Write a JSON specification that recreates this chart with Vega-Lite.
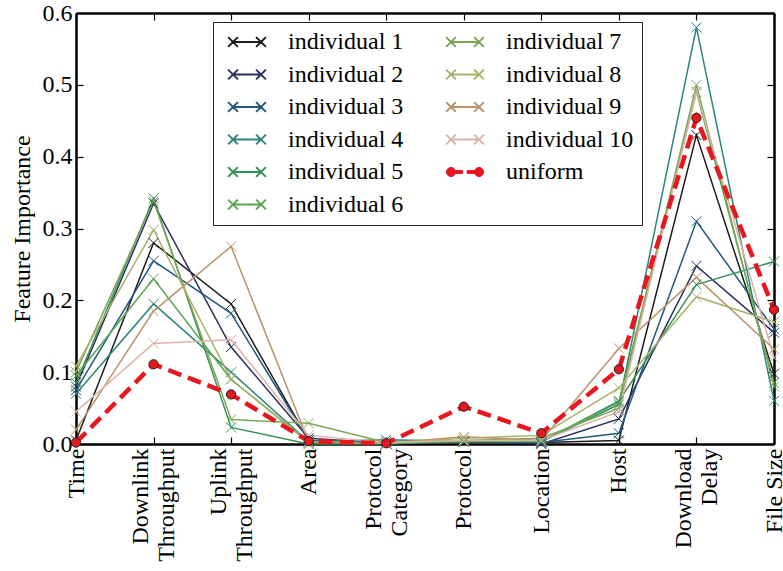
{
  "$schema": "https://vega.github.io/schema/vega-lite/v6.json",
  "width": 698,
  "height": 431,
  "autosize": "none",
  "padding": {"left": 76, "top": 13, "right": 9, "bottom": 127},
  "background": "white",
  "config": {
    "font": "Liberation Serif, Times New Roman, serif",
    "view": {"stroke": null},
    "axis": {"grid": false, "domainColor": "black", "domainWidth": 2.5, "tickColor": "black", "tickWidth": 1.2, "labelColor": "black", "labelFontSize": 24, "titleFontSize": 24, "titleFontWeight": "normal", "titleColor": "black", "labelFont": "Liberation Serif, Times New Roman, serif", "titleFont": "Liberation Serif, Times New Roman, serif"},
    "legend": {"labelFont": "Liberation Serif, Times New Roman, serif", "labelFontSize": 24}
  },
  "datasets": {
    "fi": [
      {"f": "Time", "s": "individual 1", "v": 0.005}, {"f": "Downlink Throughput", "s": "individual 1", "v": 0.28}, {"f": "Uplink Throughput", "s": "individual 1", "v": 0.195}, {"f": "Area", "s": "individual 1", "v": 0.005}, {"f": "Protocol Category", "s": "individual 1", "v": 0.001}, {"f": "Protocol", "s": "individual 1", "v": 0.003}, {"f": "Location", "s": "individual 1", "v": 0.002}, {"f": "Host", "s": "individual 1", "v": 0.005}, {"f": "Download Delay", "s": "individual 1", "v": 0.43}, {"f": "File Size", "s": "individual 1", "v": 0.098},
      {"f": "Time", "s": "individual 2", "v": 0.08}, {"f": "Downlink Throughput", "s": "individual 2", "v": 0.335}, {"f": "Uplink Throughput", "s": "individual 2", "v": 0.135}, {"f": "Area", "s": "individual 2", "v": 0.008}, {"f": "Protocol Category", "s": "individual 2", "v": 0.001}, {"f": "Protocol", "s": "individual 2", "v": 0.003}, {"f": "Location", "s": "individual 2", "v": 0.0}, {"f": "Host", "s": "individual 2", "v": 0.035}, {"f": "Download Delay", "s": "individual 2", "v": 0.248}, {"f": "File Size", "s": "individual 2", "v": 0.155},
      {"f": "Time", "s": "individual 3", "v": 0.075}, {"f": "Downlink Throughput", "s": "individual 3", "v": 0.255}, {"f": "Uplink Throughput", "s": "individual 3", "v": 0.182}, {"f": "Area", "s": "individual 3", "v": 0.005}, {"f": "Protocol Category", "s": "individual 3", "v": 0.003}, {"f": "Protocol", "s": "individual 3", "v": 0.004}, {"f": "Location", "s": "individual 3", "v": 0.002}, {"f": "Host", "s": "individual 3", "v": 0.015}, {"f": "Download Delay", "s": "individual 3", "v": 0.31}, {"f": "File Size", "s": "individual 3", "v": 0.16},
      {"f": "Time", "s": "individual 4", "v": 0.07}, {"f": "Downlink Throughput", "s": "individual 4", "v": 0.195}, {"f": "Uplink Throughput", "s": "individual 4", "v": 0.1}, {"f": "Area", "s": "individual 4", "v": 0.003}, {"f": "Protocol Category", "s": "individual 4", "v": 0.006}, {"f": "Protocol", "s": "individual 4", "v": 0.004}, {"f": "Location", "s": "individual 4", "v": 0.003}, {"f": "Host", "s": "individual 4", "v": 0.055}, {"f": "Download Delay", "s": "individual 4", "v": 0.58}, {"f": "File Size", "s": "individual 4", "v": 0.06},
      {"f": "Time", "s": "individual 5", "v": 0.085}, {"f": "Downlink Throughput", "s": "individual 5", "v": 0.342}, {"f": "Uplink Throughput", "s": "individual 5", "v": 0.023}, {"f": "Area", "s": "individual 5", "v": 0.0}, {"f": "Protocol Category", "s": "individual 5", "v": 0.0}, {"f": "Protocol", "s": "individual 5", "v": 0.003}, {"f": "Location", "s": "individual 5", "v": 0.003}, {"f": "Host", "s": "individual 5", "v": 0.06}, {"f": "Download Delay", "s": "individual 5", "v": 0.222}, {"f": "File Size", "s": "individual 5", "v": 0.254},
      {"f": "Time", "s": "individual 6", "v": 0.095}, {"f": "Downlink Throughput", "s": "individual 6", "v": 0.23}, {"f": "Uplink Throughput", "s": "individual 6", "v": 0.09}, {"f": "Area", "s": "individual 6", "v": 0.002}, {"f": "Protocol Category", "s": "individual 6", "v": 0.001}, {"f": "Protocol", "s": "individual 6", "v": 0.004}, {"f": "Location", "s": "individual 6", "v": 0.004}, {"f": "Host", "s": "individual 6", "v": 0.058}, {"f": "Download Delay", "s": "individual 6", "v": 0.49}, {"f": "File Size", "s": "individual 6", "v": 0.085},
      {"f": "Time", "s": "individual 7", "v": 0.1}, {"f": "Downlink Throughput", "s": "individual 7", "v": 0.338}, {"f": "Uplink Throughput", "s": "individual 7", "v": 0.034}, {"f": "Area", "s": "individual 7", "v": 0.029}, {"f": "Protocol Category", "s": "individual 7", "v": 0.002}, {"f": "Protocol", "s": "individual 7", "v": 0.005}, {"f": "Location", "s": "individual 7", "v": 0.008}, {"f": "Host", "s": "individual 7", "v": 0.05}, {"f": "Download Delay", "s": "individual 7", "v": 0.5}, {"f": "File Size", "s": "individual 7", "v": 0.08},
      {"f": "Time", "s": "individual 8", "v": 0.108}, {"f": "Downlink Throughput", "s": "individual 8", "v": 0.298}, {"f": "Uplink Throughput", "s": "individual 8", "v": 0.09}, {"f": "Area", "s": "individual 8", "v": 0.003}, {"f": "Protocol Category", "s": "individual 8", "v": 0.001}, {"f": "Protocol", "s": "individual 8", "v": 0.008}, {"f": "Location", "s": "individual 8", "v": 0.012}, {"f": "Host", "s": "individual 8", "v": 0.078}, {"f": "Download Delay", "s": "individual 8", "v": 0.205}, {"f": "File Size", "s": "individual 8", "v": 0.17},
      {"f": "Time", "s": "individual 9", "v": 0.02}, {"f": "Downlink Throughput", "s": "individual 9", "v": 0.185}, {"f": "Uplink Throughput", "s": "individual 9", "v": 0.275}, {"f": "Area", "s": "individual 9", "v": 0.003}, {"f": "Protocol Category", "s": "individual 9", "v": 0.001}, {"f": "Protocol", "s": "individual 9", "v": 0.01}, {"f": "Location", "s": "individual 9", "v": 0.005}, {"f": "Host", "s": "individual 9", "v": 0.133}, {"f": "Download Delay", "s": "individual 9", "v": 0.232}, {"f": "File Size", "s": "individual 9", "v": 0.132},
      {"f": "Time", "s": "individual 10", "v": 0.045}, {"f": "Downlink Throughput", "s": "individual 10", "v": 0.14}, {"f": "Uplink Throughput", "s": "individual 10", "v": 0.145}, {"f": "Area", "s": "individual 10", "v": 0.012}, {"f": "Protocol Category", "s": "individual 10", "v": 0.002}, {"f": "Protocol", "s": "individual 10", "v": 0.005}, {"f": "Location", "s": "individual 10", "v": 0.005}, {"f": "Host", "s": "individual 10", "v": 0.045}, {"f": "Download Delay", "s": "individual 10", "v": 0.49}, {"f": "File Size", "s": "individual 10", "v": 0.12},
      {"f": "Time", "s": "uniform", "v": 0.002}, {"f": "Downlink Throughput", "s": "uniform", "v": 0.111}, {"f": "Uplink Throughput", "s": "uniform", "v": 0.069}, {"f": "Area", "s": "uniform", "v": 0.004}, {"f": "Protocol Category", "s": "uniform", "v": 0.001}, {"f": "Protocol", "s": "uniform", "v": 0.052}, {"f": "Location", "s": "uniform", "v": 0.015}, {"f": "Host", "s": "uniform", "v": 0.104}, {"f": "Download Delay", "s": "uniform", "v": 0.454}, {"f": "File Size", "s": "uniform", "v": 0.187}
    ]
  },
  "data": {"name": "fi"},
  "layer": [
    {
      "transform": [{"filter": "datum.s !== 'uniform'"}],
      "mark": {"type": "line", "strokeWidth": 1.5},
      "encoding": {
        "x": {"field": "f", "type": "nominal", "sort": ["Time", "Downlink Throughput", "Uplink Throughput", "Area", "Protocol Category", "Protocol", "Location", "Host", "Download Delay", "File Size"], "scale": {"type": "point", "padding": 0},
          "axis": {"title": null, "labelAngle": 270, "labelAlign": "right", "labelBaseline": "middle", "labelPadding": 11, "tickSize": -7, "labelLineHeight": 26, "labelOverlap": false,
            "labelOffset": {"condition": {"test": "datum.value === 'Downlink Throughput' || datum.value === 'Uplink Throughput' || datum.value === 'Protocol Category' || datum.value === 'Download Delay'", "value": -13}, "value": 0},
            "labelExpr": "datum.label == 'File Size' ? datum.label : split(datum.label, ' ')"}},
        "y": {"field": "v", "type": "quantitative", "scale": {"domain": [0, 0.6], "nice": false, "zero": true},
          "axis": {"title": "Feature Importance", "values": [0, 0.1, 0.2, 0.3, 0.4, 0.5, 0.6], "format": ".1f", "tickSize": -7, "labelPadding": 11, "titlePadding": 8}},
        "color": {"field": "s", "type": "nominal",
          "scale": {"domain": ["individual 1", "individual 2", "individual 3", "individual 4", "individual 5", "individual 6", "individual 7", "individual 8", "individual 9", "individual 10", "uniform"],
                    "range": ["#1c1c1c", "#2a2f60", "#215a7e", "#2a857e", "#35905a", "#58a650", "#7ea656", "#a9b26a", "#b9956a", "#dcb4a8", "#e8161e"]},
          "legend": {"title": null, "orient": "none", "legendX": 137, "legendY": 9, "columns": 2, "direction": "vertical",
            "labelFontSize": 24, "labelColor": "black", "labelFont": "Liberation Serif, Times New Roman, serif", "labelLimit": 300,
            "strokeColor": "#222222", "fillColor": "white", "padding": 8, "rowPadding": 8.5, "columnPadding": 35,
            "symbolSize": 196, "symbolOffset": 14, "labelOffset": 29, "symbolStrokeWidth": 2,
            "encode": {
              "labels": {"update": {"font": {"value": "Liberation Serif, Times New Roman, serif"}, "fontSize": {"value": 24}}},
              "symbols": {"update": {
              "shape": {"signal": "datum.value === 'uniform' ? 'M-2.65,0A0.65,0.65 0 1 0 -1.35,0A0.65,0.65 0 1 0 -2.65,0ZM1.35,0A0.65,0.65 0 1 0 2.65,0A0.65,0.65 0 1 0 1.35,0ZM-1.35,-0.2H-0.35V0.2H-1.35ZM0.3,-0.2H1.35V0.2H0.3Z' : 'M-2,0H2M-2.7,-0.7L-1.3,0.7M-2.7,0.7L-1.3,-0.7M1.3,-0.7L2.7,0.7M1.3,0.7L2.7,-0.7'"},
              "fill": {"signal": "datum.value === 'uniform' ? '#e8161e' : 'transparent'"},
              "strokeWidth": {"signal": "datum.value === 'uniform' ? 1 : 2"}
            }}}}
        }
      }
    },
    {
      "transform": [{"filter": "datum.s !== 'uniform'"}],
      "mark": {"type": "point", "shape": "M-1,-1L1,1M-1,1L1,-1", "filled": false, "size": 100, "strokeWidth": 1, "opacity": 1},
      "encoding": {
        "x": {"field": "f", "type": "nominal", "sort": ["Time", "Downlink Throughput", "Uplink Throughput", "Area", "Protocol Category", "Protocol", "Location", "Host", "Download Delay", "File Size"], "axis": null},
        "y": {"field": "v", "type": "quantitative", "axis": null},
        "color": {"field": "s", "type": "nominal"}
      }
    },
    {
      "transform": [{"filter": "datum.s === 'uniform'"}],
      "mark": {"type": "line", "strokeWidth": 4.5, "strokeDash": [14, 7]},
      "encoding": {
        "x": {"field": "f", "type": "nominal", "sort": ["Time", "Downlink Throughput", "Uplink Throughput", "Area", "Protocol Category", "Protocol", "Location", "Host", "Download Delay", "File Size"],
          "axis": {"orient": "top", "labels": false, "title": null, "tickSize": -7}},
        "y": {"field": "v", "type": "quantitative",
          "axis": {"orient": "right", "labels": false, "title": null, "tickSize": -7, "values": [0, 0.1, 0.2, 0.3, 0.4, 0.5, 0.6]}},
        "color": {"field": "s", "type": "nominal"}
      }
    },
    {
      "transform": [{"filter": "datum.s === 'uniform'"}],
      "mark": {"type": "point", "shape": "circle", "filled": true, "size": 85, "stroke": "#222222", "strokeWidth": 1, "fill": "#e8161e", "opacity": 1},
      "encoding": {
        "x": {"field": "f", "type": "nominal", "sort": ["Time", "Downlink Throughput", "Uplink Throughput", "Area", "Protocol Category", "Protocol", "Location", "Host", "Download Delay", "File Size"], "axis": null},
        "y": {"field": "v", "type": "quantitative", "axis": null}
      }
    }
  ],
  "resolve": {"axis": {"x": "independent", "y": "independent"}}
}
